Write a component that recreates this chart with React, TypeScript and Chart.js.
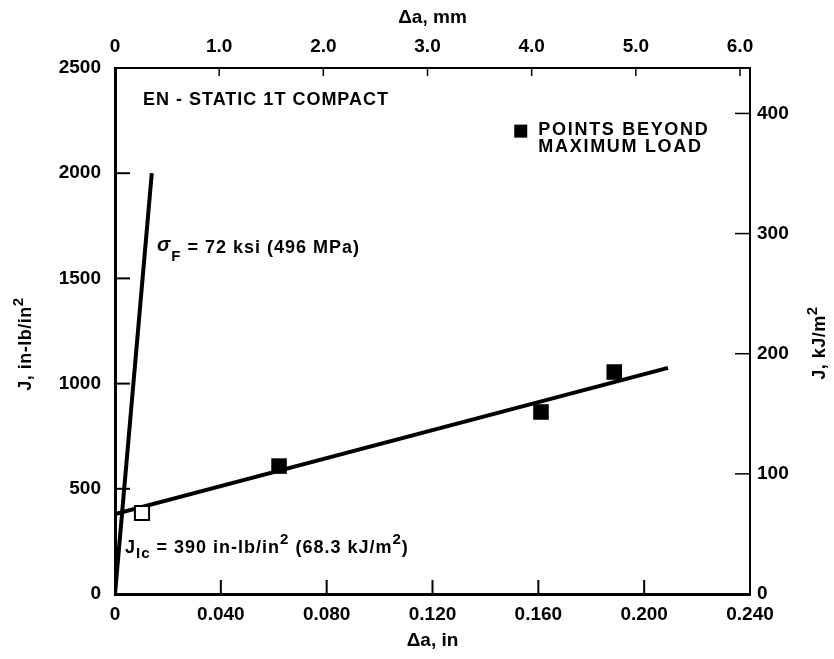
import React, { useEffect, useRef } from "react";
import { Chart, registerables } from "chart.js";

Chart.register(...registerables);

// ---- unit conversions (for secondary axes) ----
const IN_TO_MM = 25.4;
const INLB_TO_KJ = 0.175127;

// ---- axes ----
const bottomTickValues = [0, 0.04, 0.08, 0.12, 0.16, 0.2, 0.24];
const bottomTickLabels = ["0", "0.040", "0.080", "0.120", "0.160", "0.200", "0.240"];
const topTickValues = [0, 1, 2, 3, 4, 5, 6];
const topTickLabels = ["0", "1.0", "2.0", "3.0", "4.0", "5.0", "6.0"];
const leftTickValues = [0, 500, 1000, 1500, 2000, 2500];
const leftTickLabels = ["0", "500", "1000", "1500", "2000", "2500"];
const rightTickValues = [0, 100, 200, 300, 400];
const rightTickLabels = ["0", "100", "200", "300", "400"];

// ---- data (Δa in inches, J in in-lb/in²) ----
const bluntingDeltaA = [0, 0.0139];
const bluntingJ = [0, 2000];
const fitDeltaA = [0, 0.209];
const fitJ = [380, 1075];
const validDeltaA = [0.0102];
const validJ = [385];
const beyondMaxDeltaA = [0.062, 0.161, 0.1887];
const beyondMaxJ = [608, 865, 1055];

// ---- texts ----
const bottomTitle = "Δa, in";
const topTitle = "Δa, mm";
const leftTitleParts = ["J, in-lb/in", "2"];
const rightTitleParts = ["J, kJ/m", "2"];
const specimenLabel = "EN - STATIC 1T COMPACT";
const legendLines = ["POINTS BEYOND", "MAXIMUM LOAD"];

const FONT = '"Liberation Sans", Arial, Helvetica, sans-serif';

const toXY = (xs: number[], ys: number[]) => xs.map((x, i) => ({ x, y: ys[i] }));

type Run = { text: string; size: number; dy?: number; italic?: boolean };

function measureRuns(ctx: CanvasRenderingContext2D, runs: Run[], spacing: number) {
  let w = 0;
  for (const r of runs) {
    ctx.font = `${r.italic ? "italic " : ""}bold ${r.size}px ${FONT}`;
    (ctx as any).letterSpacing = spacing + "px";
    w += ctx.measureText(r.text).width;
  }
  return w;
}

function drawRuns(ctx: CanvasRenderingContext2D, x: number, y: number, runs: Run[], spacing: number) {
  let cx = x;
  for (const r of runs) {
    ctx.font = `${r.italic ? "italic " : ""}bold ${r.size}px ${FONT}`;
    (ctx as any).letterSpacing = spacing + "px";
    ctx.fillText(r.text, cx, y + (r.dy || 0));
    cx += ctx.measureText(r.text).width;
  }
}

function drawVerticalTitle(ctx: CanvasRenderingContext2D, cx: number, cy: number, parts: string[]) {
  const runs: Run[] = [
    { text: parts[0], size: 18 },
    { text: parts[1], size: 15, dy: -8 },
  ];
  ctx.save();
  ctx.translate(cx, cy);
  ctx.rotate(-Math.PI / 2);
  ctx.textAlign = "left";
  ctx.textBaseline = "alphabetic";
  const w = measureRuns(ctx, runs, 0.5);
  drawRuns(ctx, -w / 2, 6, runs, 0.5);
  ctx.restore();
}

const decorPlugin = {
  id: "decor",
  afterDraw(chart: any) {
    const { ctx, chartArea: a, scales } = chart;
    const sx = scales.x;
    const sy = scales.y;
    const sxTop = scales.xTop;
    const syR = scales.yRight;
    ctx.save();
    ctx.strokeStyle = "#000";
    ctx.fillStyle = "#000";
    // inward tick marks
    ctx.lineWidth = 2;
    bottomTickValues.forEach((v) => {
      const p = sx.getPixelForValue(v);
      ctx.beginPath();
      ctx.moveTo(p, a.bottom);
      ctx.lineTo(p, a.bottom - 14);
      ctx.stroke();
    });
    leftTickValues.forEach((v) => {
      const p = sy.getPixelForValue(v);
      ctx.beginPath();
      ctx.moveTo(a.left, p);
      ctx.lineTo(a.left + 15, p);
      ctx.stroke();
    });
    ctx.lineWidth = 1.5;
    rightTickValues.forEach((v) => {
      const p = syR.getPixelForValue(v);
      ctx.beginPath();
      ctx.moveTo(a.right, p);
      ctx.lineTo(a.right - 15, p);
      ctx.stroke();
    });
    topTickValues.forEach((v) => {
      const p = sxTop.getPixelForValue(v);
      ctx.beginPath();
      ctx.moveTo(p, a.top);
      ctx.lineTo(p, a.top + 8);
      ctx.stroke();
    });

    // vertical axis titles (both read bottom to top)
    drawVerticalTitle(ctx, 25, 344, leftTitleParts);
    drawVerticalTitle(ctx, 819, 343, rightTitleParts);

    ctx.textAlign = "left";
    ctx.textBaseline = "alphabetic";
    // specimen label
    drawRuns(ctx, sx.getPixelForValue(0.0106), sy.getPixelForValue(2326), [{ text: specimenLabel, size: 18 }], 1);

    // legend
    const lx = sx.getPixelForValue(0.1509);
    const ly = sy.getPixelForValue(2200);
    ctx.fillRect(lx, ly - 6.5, 13, 13);
    const tx = sx.getPixelForValue(0.160);
    drawRuns(ctx, tx, sy.getPixelForValue(2181), [{ text: legendLines[0], size: 18 }], 1.7);
    drawRuns(ctx, tx, sy.getPixelForValue(2101), [{ text: legendLines[1], size: 18 }], 1.7);

    // flow stress label
    drawRuns(
      ctx,
      sx.getPixelForValue(0.0159),
      sy.getPixelForValue(1621),
      [
        { text: "σ", size: 20, italic: true, dy: -2 },
        { text: "F", size: 15, dy: 8 },
        { text: " = 72 ksi (496 MPa)", size: 18 },
      ],
      1
    );

    // J_Ic label
    drawRuns(
      ctx,
      sx.getPixelForValue(0.0038),
      sy.getPixelForValue(195),
      [
        { text: "J", size: 18 },
        { text: "Ic", size: 15, dy: 5 },
        { text: " = 390 in-lb/in", size: 18 },
        { text: "2", size: 15, dy: -9 },
        { text: " (68.3 kJ/m", size: 18 },
        { text: "2", size: 15, dy: -9 },
        { text: ")", size: 18 },
      ],
      1
    );
    ctx.restore();
  },
};

export default function App() {
  const ref = useRef<HTMLCanvasElement | null>(null);
  useEffect(() => {
    if (!ref.current) return;
    const tickFont = { family: FONT, size: 19, weight: "bold" as const };
    const titleFont = { family: FONT, size: 19, weight: "bold" as const };
    const chart = new Chart(ref.current, {
      type: "scatter",
      data: {
        datasets: [
          {
            label: "valid",
            data: toXY(validDeltaA, validJ),
            pointStyle: "rect",
            pointRadius: 10,
            backgroundColor: "#fff",
            borderColor: "#000",
            borderWidth: 2,
          },
          {
            label: "beyond",
            data: toXY(beyondMaxDeltaA, beyondMaxJ),
            pointStyle: "rect",
            pointRadius: 11,
            backgroundColor: "#000",
            borderColor: "#000",
            borderWidth: 0,
          },
          {
            label: "fit",
            data: toXY(fitDeltaA, fitJ),
            showLine: true,
            pointRadius: 0,
            borderColor: "#000",
            borderWidth: 4,
          },
          {
            label: "blunting",
            data: toXY(bluntingDeltaA, bluntingJ),
            showLine: true,
            pointRadius: 0,
            borderColor: "#000",
            borderWidth: 4,
          },
        ],
      },
      options: {
        responsive: false,
        animation: false,
        layout: { padding: 0 },
        plugins: { legend: { display: false }, tooltip: { enabled: false } },
        scales: {
          x: {
            type: "linear",
            position: "bottom",
            min: 0,
            max: 0.24,
            afterBuildTicks: (s: any) => {
              s.ticks = bottomTickValues.map((v) => ({ value: v }));
            },
            afterFit: (s: any) => {
              s.height = 65;
            },
            ticks: {
              callback: (_v: any, i: number) => bottomTickLabels[i],
              font: tickFont,
              color: "#000",
              padding: 9,
              maxRotation: 0,
              autoSkip: false,
            },
            grid: { display: false, drawTicks: false },
            border: { display: true, color: "#000", width: 3 },
            title: { display: true, text: bottomTitle, font: titleFont, color: "#000", padding: { top: 8, bottom: 7 } },
          },
          xTop: {
            type: "linear",
            position: "top",
            min: 0,
            max: 0.24 * IN_TO_MM,
            afterBuildTicks: (s: any) => {
              s.ticks = topTickValues.map((v) => ({ value: v }));
            },
            afterFit: (s: any) => {
              s.height = 68;
            },
            ticks: {
              callback: (_v: any, i: number) => topTickLabels[i],
              font: tickFont,
              color: "#000",
              padding: 10,
              maxRotation: 0,
              autoSkip: false,
            },
            grid: { display: false, drawTicks: false },
            border: { display: true, color: "#000", width: 2 },
            title: { display: true, text: topTitle, font: titleFont, color: "#000", padding: { top: 6, bottom: 0 } },
          },
          y: {
            type: "linear",
            position: "left",
            min: 0,
            max: 2500,
            afterBuildTicks: (s: any) => {
              s.ticks = leftTickValues.map((v) => ({ value: v }));
            },
            afterFit: (s: any) => {
              s.width = 115;
            },
            ticks: {
              callback: (_v: any, i: number) => leftTickLabels[i],
              font: tickFont,
              color: "#000",
              padding: 14,
              autoSkip: false,
            },
            grid: { display: false, drawTicks: false },
            border: { display: true, color: "#000", width: 3 },
          },
          yRight: {
            type: "linear",
            position: "right",
            min: 0,
            max: 2500 * INLB_TO_KJ,
            afterBuildTicks: (s: any) => {
              s.ticks = rightTickValues.map((v) => ({ value: v }));
            },
            afterFit: (s: any) => {
              s.width = 84;
            },
            ticks: {
              callback: (_v: any, i: number) => rightTickLabels[i],
              font: tickFont,
              color: "#000",
              padding: 7,
              autoSkip: false,
            },
            grid: { display: false, drawTicks: false },
            border: { display: true, color: "#000", width: 2 },
          },
        },
      },
      plugins: [decorPlugin],
    });
    return () => chart.destroy();
  }, []);
  return (
    <canvas
      ref={ref}
      width={834}
      height={659}
      style={{ position: "fixed", left: 0, top: 0, width: 834, height: 659, background: "#fff" }}
    />
  );
}
